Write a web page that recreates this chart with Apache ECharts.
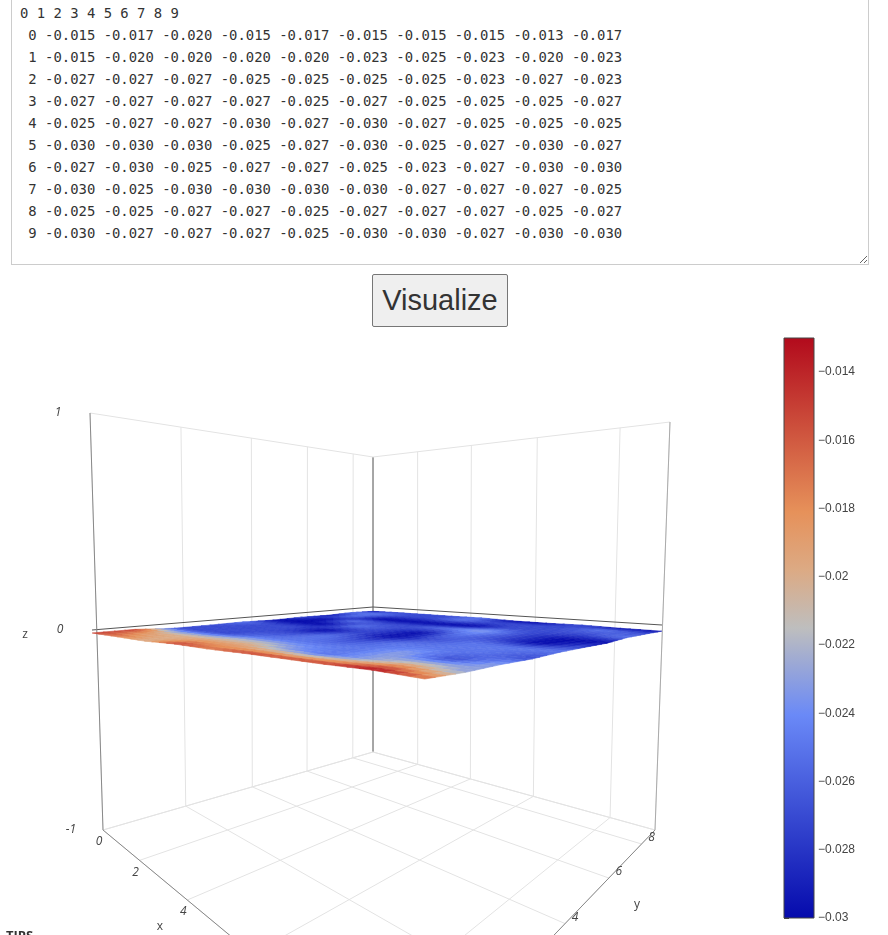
<!DOCTYPE html>
<html>
<head>
<meta charset="utf-8">
<script src="https://cdn.jsdelivr.net/npm/echarts@6/dist/echarts.min.js"></script>
<style>
  body{margin:0;background:#fff;width:888px;height:935px;overflow:hidden;position:relative;font-family:"Open Sans",Arial,sans-serif}
  #chart{position:absolute;left:0;top:0;width:888px;height:935px}
  #data{position:absolute;left:11px;top:-1px;width:840px;height:254px;padding:2px 8px 8px 8px;border:1px solid #ccc;
    font-family:"DejaVu Sans Mono",monospace;font-size:13.9px;line-height:22px;color:#333;resize:both;overflow-y:scroll;white-space:pre;z-index:2;background:#fff;box-sizing:content-box}
  #btn{position:absolute;left:372px;top:274px;width:136px;height:53px;font-size:29px;font-family:Arial,"Liberation Sans",sans-serif;
    background:#efefef;border:1px solid #767676;border-radius:2px;color:#333;z-index:2}
  #tips{position:absolute;left:6px;top:926px;font-weight:bold;font-size:13px;color:#333;z-index:2}
</style>
</head>
<body>
<div id="chart"></div>
<textarea id="data"></textarea>
<button id="btn">Visualize</button>
<div id="tips">TIPS</div>
<script>
// 数据
var zData = [
  [-0.015,-0.017,-0.020,-0.015,-0.017,-0.015,-0.015,-0.015,-0.013,-0.017],
  [-0.015,-0.020,-0.020,-0.020,-0.020,-0.023,-0.025,-0.023,-0.020,-0.023],
  [-0.027,-0.027,-0.027,-0.025,-0.025,-0.025,-0.025,-0.023,-0.027,-0.023],
  [-0.027,-0.027,-0.027,-0.027,-0.025,-0.027,-0.025,-0.025,-0.025,-0.027],
  [-0.025,-0.027,-0.027,-0.030,-0.027,-0.030,-0.027,-0.025,-0.025,-0.025],
  [-0.030,-0.030,-0.030,-0.025,-0.027,-0.030,-0.025,-0.027,-0.030,-0.027],
  [-0.027,-0.030,-0.025,-0.027,-0.027,-0.025,-0.023,-0.027,-0.030,-0.030],
  [-0.030,-0.025,-0.030,-0.030,-0.030,-0.030,-0.027,-0.027,-0.027,-0.025],
  [-0.025,-0.025,-0.027,-0.027,-0.025,-0.027,-0.027,-0.027,-0.025,-0.027],
  [-0.030,-0.027,-0.027,-0.027,-0.025,-0.030,-0.030,-0.027,-0.030,-0.030]
];
var xTicks = [0,2,4,6,8];
var yTicks = [0,2,4,6,8];
var zTicks = [-1,0,1];
var cMin = -0.03, cMax = -0.013;
var colorStops = [[0,[5,10,172]],[0.35,[106,137,247]],[0.5,[190,190,190]],[0.6,[220,170,132]],[0.7,[230,145,90]],[1,[178,10,28]]];

// 文本框
var head = "0 1 2 3 4 5 6 7 8 9\n";
var lines = zData.map(function(r,i){ return " "+i+" "+r.map(function(v){return v.toFixed(3);}).join(" "); });
document.getElementById('data').value = head + lines.join("\n") + "\n";

function colorOf(v){
  var t = (v-cMin)/(cMax-cMin); t = Math.max(0,Math.min(1,t));
  for(var k=1;k<colorStops.length;k++){
    if(t<=colorStops[k][0]){
      var a=colorStops[k-1], b=colorStops[k], s=(t-a[0])/(b[0]-a[0]);
      return 'rgb('+[0,1,2].map(function(c){return Math.round(a[1][c]+(b[1][c]-a[1][c])*s);}).join(',')+')';
    }
  }
  return 'rgb(178,10,28)';
}

// 投影: 方形->四边形
function homo(q){ // q: [L(0,0), F(1,0), R(1,1), B(0,1)]
  var x0=q[0][0],y0=q[0][1],x1=q[1][0],y1=q[1][1],x2=q[2][0],y2=q[2][1],x3=q[3][0],y3=q[3][1];
  var sx=x0-x1+x2-x3, sy=y0-y1+y2-y3;
  var dx1=x1-x2,dx2=x3-x2,dy1=y1-y2,dy2=y3-y2, den=dx1*dy2-dx2*dy1;
  var g=(sx*dy2-dx2*sy)/den, h=(dx1*sy-sx*dy1)/den;
  var a=x1-x0+g*x1,b=x3-x0+h*x3,c=x0,d=y1-y0+g*y1,e=y3-y0+h*y3,f=y0;
  return function(u,v){ var w=g*u+h*v+1; return [(a*u+b*v+c)/w,(d*u+e*v+f)/w]; };
}
var Hm = homo([[103,830],[410,1085],[655,830],[373,752]]);
var H0 = homo([[92,630],[425,672],[662,625],[373,607]]);
var Hp = homo([[90,413],[432,240],[670,422],[373,457]]);
function proj(x,y,z){
  var u=x/9, v=y/9, a, b, t;
  if(z<0){ a=Hm(u,v); b=H0(u,v); t=z+1; } else { a=H0(u,v); b=Hp(u,v); t=z; }
  return [a[0]+(b[0]-a[0])*t, a[1]+(b[1]-a[1])*t];
}

// 网格线
var gridLines = [];
function seg(p,q,c,w){ gridLines.push(p.concat(q).concat([c,w])); }
var gc='#e3e3e3';
yTicks.concat([9]).forEach(function(y){ seg([0,y,-1],[0,y,1],y==9?'#888':gc,1); seg([0,y,-1],[9,y,-1],gc,1); });
xTicks.concat([9]).forEach(function(x){ seg([x,9,-1],[x,9,1],x==0?'#888':gc,1); seg([x,0,-1],[x,9,-1],gc,1); });
zTicks.forEach(function(z){ var c=z==0?'#555':gc; seg([0,0,z],[0,9,z],c,1); seg([0,9,z],[9,9,z],c,1); });
seg([0,0,-1],[0,0,1],'#888',1);
seg([9,9,-1],[9,9,1],'#aaa',1);
seg([0,0,-1],[9,0,-1],'#888',1);
seg([9,0,-1],[9,9,-1],'#888',1);

// 曲面小格
var N=4, cells=[];
function zAt(x,y){
  var i=Math.min(8,Math.floor(y)), j=Math.min(8,Math.floor(x)), fy=y-i, fx=x-j;
  return (zData[i][j]*(1-fx)+zData[i][j+1]*fx)*(1-fy)+(zData[i+1][j]*(1-fx)+zData[i+1][j+1]*fx)*fy;
}
for(var i=0;i<9*N;i++){ for(var j=0;j<9*N;j++){
  var x0=j/N,x1=(j+1)/N,y0=i/N,y1=(i+1)/N;
  cells.push([x0,y0,x1,y1,zAt(x0,y0),zAt(x1,y0),zAt(x1,y1),zAt(x0,y1)]);
}}
cells.sort(function(a,b){ return (a[0]-a[1])-(b[0]-b[1]); });

var labels = [];
xTicks.forEach(function(x){ var p=proj(x,0,-1); labels.push([p[0]-4,p[1]+12,String(x),'italic']); });
yTicks.forEach(function(y){ var p=proj(9,y,-1); labels.push([p[0]+10,p[1]-6,String(y),'italic']); });
zTicks.forEach(function(z){ var p=proj(0,0,z); labels.push([p[0]-32,p[1],String(z),'italic']); });
labels.push([25,635,'z','normal']); labels.push([160,927,'x','normal']); labels.push([637,905,'y','normal']);

var chart = echarts.init(document.getElementById('chart'));
chart.setOption({
  animation:false,
  grid:{left:784,top:338,width:30,height:580},
  xAxis:{type:'value',min:0,max:1,show:false},
  yAxis:{type:'value',min:cMin,max:cMax,interval:0.002,position:'right',splitLine:{show:false},
    axisLine:{show:false},axisTick:{show:true,length:5,lineStyle:{color:'#444'}},
    axisLabel:{color:'#444',fontSize:12,margin:4,showMaxLabel:false,
      formatter:function(v){ return '\u2212'+parseFloat(Math.abs(v).toFixed(3)); }}},
  series:[
    {type:'custom',coordinateSystem:'none',data:gridLines,silent:true,
      renderItem:function(p,api){ var d=gridLines[p.dataIndex], a=proj(d[0],d[1],d[2]), b=proj(d[3],d[4],d[5]);
        return {type:'line',shape:{x1:a[0],y1:a[1],x2:b[0],y2:b[1]},style:{stroke:d[6],lineWidth:d[7]}}; }},
    {type:'custom',coordinateSystem:'none',data:cells,silent:true,
      renderItem:function(p,api){ var c=cells[p.dataIndex], col=colorOf((c[4]+c[5]+c[6]+c[7])/4);
        var pts=[proj(c[0],c[1],c[4]),proj(c[2],c[1],c[5]),proj(c[2],c[3],c[6]),proj(c[0],c[3],c[7])];
        return {type:'polygon',shape:{points:pts},style:{fill:col,stroke:col,lineWidth:0.6}}; }},
    {type:'custom',coordinateSystem:'none',data:labels,silent:true,
      renderItem:function(p,api){ var l=labels[p.dataIndex];
        return {type:'text',x:l[0],y:l[1],style:{text:l[2],fill:'#444',fontSize:12,fontStyle:l[3],align:'center',verticalAlign:'middle',fontFamily:'Open Sans'}}; }},
    {type:'custom',data:[[0]],silent:true,
      renderItem:function(p,api){ var a=api.coord([0,cMin]), b=api.coord([1,cMax]);
        var stops=colorStops.map(function(s){ return {offset:1-s[0],color:'rgb('+s[1].join(',')+')'}; }).reverse();
        return {type:'rect',shape:{x:a[0],y:b[1],width:b[0]-a[0],height:a[1]-b[1]},
          style:{fill:new echarts.graphic.LinearGradient(0,0,0,1,stops),stroke:'#444',lineWidth:1}}; }}
  ]
});
</script>
</body>
</html>
